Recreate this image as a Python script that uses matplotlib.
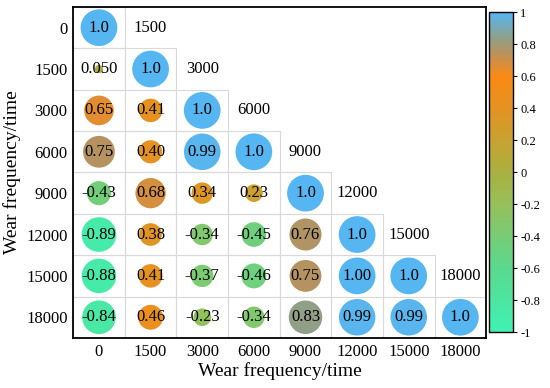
import matplotlib
matplotlib.use("Agg")
import matplotlib.pyplot as plt
from matplotlib.colors import LinearSegmentedColormap, Normalize
from matplotlib.patches import Rectangle
import numpy as np

plt.rcParams['font.family'] = ['Liberation Serif', 'DejaVu Serif']

labels = ["0", "1500", "3000", "6000", "9000", "12000", "15000", "18000"]
values = [
    [1.0],
    [0.050, 1.0],
    [0.65, 0.41, 1.0],
    [0.75, 0.40, 0.99, 1.0],
    [-0.43, 0.68, 0.34, 0.23, 1.0],
    [-0.89, 0.38, -0.34, -0.45, 0.76, 1.0],
    [-0.88, 0.41, -0.37, -0.46, 0.75, 1.00, 1.0],
    [-0.84, 0.46, -0.23, -0.34, 0.83, 0.99, 0.99, 1.0],
]
texts = [
    ["1.0"],
    ["0.050", "1.0"],
    ["0.65", "0.41", "1.0"],
    ["0.75", "0.40", "0.99", "1.0"],
    ["-0.43", "0.68", "0.34", "0.23", "1.0"],
    ["-0.89", "0.38", "-0.34", "-0.45", "0.76", "1.0"],
    ["-0.88", "0.41", "-0.37", "-0.46", "0.75", "1.00", "1.0"],
    ["-0.84", "0.46", "-0.23", "-0.34", "0.83", "0.99", "0.99", "1.0"],
]
axis_title = "Wear frequency/time"
cbar_ticks = [-1, -0.8, -0.6, -0.4, -0.2, 0, 0.2, 0.4, 0.6, 0.8, 1]

cmap = LinearSegmentedColormap.from_list("corr", [
    (0.0, "#3ff2b4"),
    (0.2, "#5ad98e"),
    (0.3, "#78cc76"),
    (0.4, "#96c05a"),
    (0.5, "#aab040"),
    (0.6, "#c8a232"),
    (0.7, "#e49222"),
    (0.8, "#fb8a14"),
    (0.875, "#b8925e"),
    (0.92, "#8fa088"),
    (1.0, "#56b6f2"),
])
norm = Normalize(-1, 1)

fig = plt.figure(figsize=(5.5, 3.88), dpi=100)
ax = fig.add_axes([0.133, 0.129, 0.751, 0.853])
n = len(labels)

xs, ys, vs = [], [], []
for i, row in enumerate(values):
    for j, v in enumerate(row):
        xs.append(j); ys.append(i); vs.append(v)
        ax.add_patch(Rectangle((j - 0.5, i - 0.5), 1, 1, fill=False,
                               edgecolor="#d9d9d9", linewidth=0.8, zorder=1))
vs = np.array(vs)
ax.scatter(xs, ys, s=700 * np.abs(vs), c=vs, cmap=cmap, norm=norm,
           edgecolors="none", zorder=2)
for i, row in enumerate(texts):
    for j, t in enumerate(row):
        ax.text(j, i, t, ha="center", va="center", fontsize=12, zorder=3)
for i in range(n - 1):
    ax.text(i + 1, i, labels[i + 1], ha="center", va="center", fontsize=12)

ax.set_xlim(-0.5, n - 0.5)
ax.set_ylim(n - 0.5, -0.5)
ax.set_xticks(range(n))
ax.set_xticklabels(labels, fontsize=12)
ax.set_yticks(range(n))
ax.set_yticklabels(labels, fontsize=12)
ax.tick_params(length=0, pad=4)
for sp in ax.spines.values():
    sp.set_linewidth(1.3)
ax.set_xlabel(axis_title, fontsize=14, labelpad=2)
ax.set_ylabel(axis_title, fontsize=14, labelpad=4)

cax = fig.add_axes([0.889, 0.144, 0.044, 0.825])
sm = matplotlib.cm.ScalarMappable(norm=norm, cmap=cmap)
cb = fig.colorbar(sm, cax=cax, ticks=cbar_ticks)
cb.ax.set_yticklabels(["-1", "-0.8", "-0.6", "-0.4", "-0.2", "0", "0.2", "0.4", "0.6", "0.8", "1"], fontsize=9)
cb.ax.tick_params(length=3, width=0.8, pad=2)
cb.outline.set_linewidth(1.0)

fig.savefig("out.png", dpi=100)
